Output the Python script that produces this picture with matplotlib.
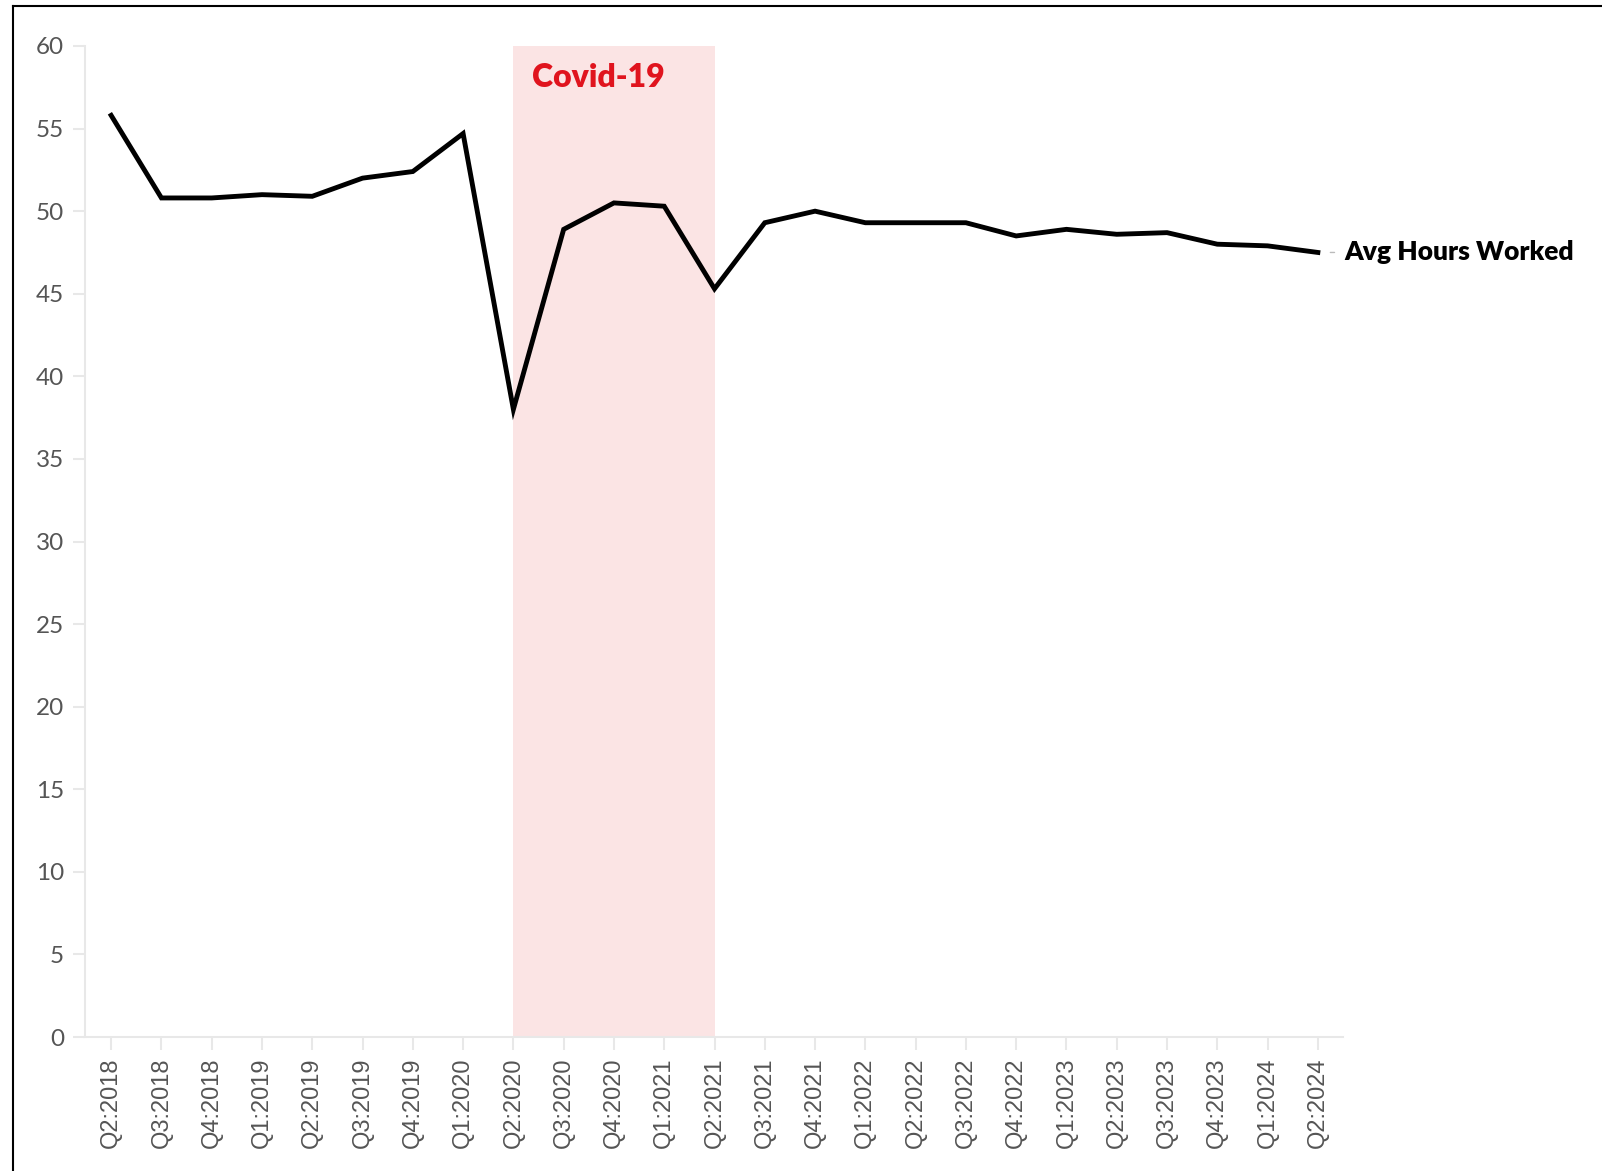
import matplotlib
matplotlib.use('Agg')
import matplotlib.pyplot as plt
from matplotlib.lines import Line2D

# data
quarters = ["Q2:2018", "Q3:2018", "Q4:2018", "Q1:2019", "Q2:2019", "Q3:2019", "Q4:2019",
            "Q1:2020", "Q2:2020", "Q3:2020", "Q4:2020", "Q1:2021", "Q2:2021", "Q3:2021",
            "Q4:2021", "Q1:2022", "Q2:2022", "Q3:2022", "Q4:2022", "Q1:2023", "Q2:2023",
            "Q3:2023", "Q4:2023", "Q1:2024", "Q2:2024"]
avg_hours = [55.8, 50.8, 50.8, 51.0, 50.9, 52.0, 52.4, 54.7, 38.0, 48.9, 50.5, 50.3, 45.3,
             49.3, 50.0, 49.3, 49.3, 49.3, 48.5, 48.9, 48.6, 48.7, 48.0, 47.9, 47.5]
yticks = [0, 5, 10, 15, 20, 25, 30, 35, 40, 45, 50, 55, 60]
covid_start, covid_end = "Q2:2020", "Q2:2021"

axis_grey = '#e8e8e8'
text_grey = '#555555'

fig = plt.figure(figsize=(16.02, 11.71), dpi=100)
ax = fig.add_axes([85 / 1602, 1 - 1037 / 1171, (1343 - 85) / 1602, (1037 - 46) / 1171])

x = list(range(len(quarters)))
i0, i1 = quarters.index(covid_start), quarters.index(covid_end)
ax.axvspan(i0, i1, color='#fbe4e4', lw=0, zorder=0)
ax.text(i0 + 0.37, 58.1, "Covid-19", color='#e0141e', fontsize=23, fontweight='heavy',
        family='Lato', va='center', ha='left')

ax.plot(x, avg_hours, color='black', lw=3.5, solid_joinstyle='miter', zorder=3)
ax.annotate("Avg Hours Worked", xy=(x[-1], avg_hours[-1]), xytext=(19, 0),
            textcoords='offset points', ha='left', va='center', fontsize=19,
            fontweight='heavy', family='Lato', color='black', annotation_clip=False,
            arrowprops=dict(arrowstyle='-', color='#bbbbbb', lw=1, shrinkA=5, shrinkB=9))

ax.set_xlim(-0.52, 24.5)
ax.set_ylim(0, 60)
ax.set_yticks(yticks)
ax.set_xticks(x)
ax.set_xticklabels(quarters, rotation=90, family='Liberation Sans', fontsize=17,
                   color=text_grey)
for lab in ax.get_yticklabels():
    lab.set_family('Lato')
    lab.set_fontsize(17.5)
    lab.set_color(text_grey)

for s in ['top', 'right']:
    ax.spines[s].set_visible(False)
for s in ['left', 'bottom']:
    ax.spines[s].set_color(axis_grey)
    ax.spines[s].set_linewidth(1.5)
ax.tick_params(axis='both', color=axis_grey, width=1.5, length=9, pad=6)
ax.tick_params(axis='x', pad=6)

# frame lines at top and left of the picture
fig.add_artist(Line2D([13 / 1602, 1], [1 - 6 / 1171, 1 - 6 / 1171], color='black', lw=1.5,
                      transform=fig.transFigure))
fig.add_artist(Line2D([13 / 1602, 13 / 1602], [0, 1 - 6 / 1171], color='black', lw=1.5,
                      transform=fig.transFigure))

plt.savefig("out.png", dpi=100)
